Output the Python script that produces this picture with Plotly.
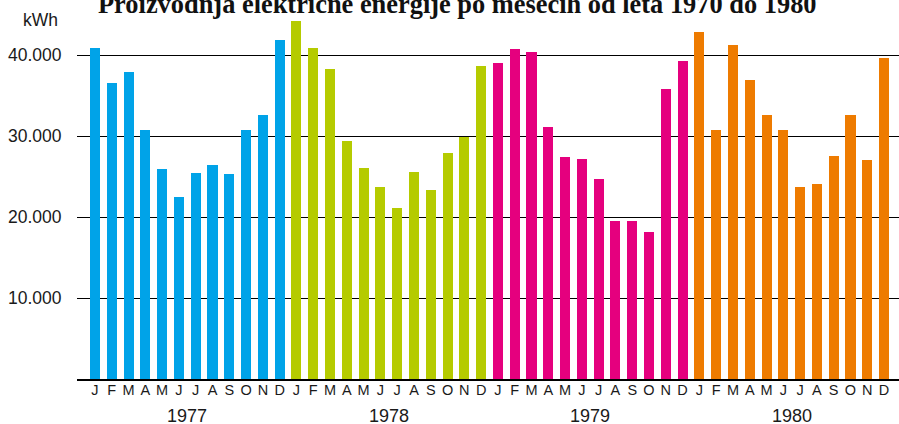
import plotly.graph_objects as go

months = ["J", "F", "M", "A", "M", "J", "J", "A", "S", "O", "N", "D"]
years = ["1977", "1978", "1979", "1980"]
values_1977 = [40900, 36600, 37900, 30750, 25900, 22500, 25450, 26450, 25300, 30750, 32600, 41850]
values_1978 = [44200, 40900, 38300, 29400, 26050, 23700, 21100, 25550, 23350, 27900, 29900, 38650]
values_1979 = [39000, 40750, 40350, 31100, 27400, 27150, 24700, 19500, 19500, 18150, 35800, 39250]
values_1980 = [42850, 30750, 41250, 36900, 32600, 30750, 23700, 24100, 27550, 32600, 27050, 39650]
year_colors = ["#00A3E8", "#B5CB00", "#E5007E", "#EE7B00"]
y_ticks = [10000, 20000, 30000, 40000]
y_tick_text = ["10.000", "20.000", "30.000", "40.000"]
title_text = "Proizvodnja električne energije po mesecih od leta 1970 do 1980"
unit_text = "kWh"

all_values = [values_1977, values_1978, values_1979, values_1980]

fig = go.Figure()
for yi, (yr, vals, col) in enumerate(zip(years, all_values, year_colors)):
    xs = [yi * 12 + m for m in range(12)]
    fig.add_trace(go.Bar(x=xs, y=vals, marker=dict(color=col, line=dict(width=0)),
                         width=0.6, name=yr, showlegend=False))

tickvals = list(range(48))
ticktext = months * 4

fig.update_layout(
    width=899, height=424,
    margin=dict(l=77, r=0, t=10, b=45),
    paper_bgcolor="white", plot_bgcolor="white",
    font=dict(family="Liberation Sans, Arial, sans-serif", color="#1a1a1a"),
    bargap=0,
    xaxis=dict(range=[-1.07, 47.89], tickvals=tickvals, ticktext=ticktext, automargin=False,
               showgrid=False, zeroline=False, showline=True, linecolor="#000", linewidth=1.5,
               ticks="", ticklabelstandoff=-3, tickfont=dict(size=14.5, color="#1a1a1a")),
    yaxis=dict(range=[0, 45556], tickvals=y_ticks, ticktext=y_tick_text, automargin=False,
               showgrid=True, gridcolor="#000", gridwidth=1, zeroline=False,
               ticks="outside", ticklen=11, tickcolor="rgba(0,0,0,0)",
               tickfont=dict(size=17.5, color="#1a1a1a")),
)

# year labels centered under each group
for yi, yr in enumerate(years):
    fig.add_annotation(x=yi * 12 + 5.5, xref="x", y=0, yref="paper", yshift=-37,
                       text=yr, showarrow=False, font=dict(size=18, color="#1a1a1a"),
                       yanchor="middle")

fig.add_annotation(x=0, xref="paper", xshift=-56, xanchor="left", y=1.0, yref="paper",
                   yshift=-10, yanchor="middle",
                   text=unit_text, showarrow=False, font=dict(size=17.5, color="#1a1a1a"))

fig.add_annotation(x=0.5, xref="paper", xshift=-31, y=1.0, yref="paper", yanchor="middle", yshift=6,
                   text="<b>" + title_text + "</b>", showarrow=False,
                   font=dict(size=26.4, family="Liberation Serif, Times New Roman, serif", color="#111"))

fig.write_html("out.html", config={"displayModeBar": False},
               post_script="document.body.style.margin='0';document.body.style.padding='0';")
